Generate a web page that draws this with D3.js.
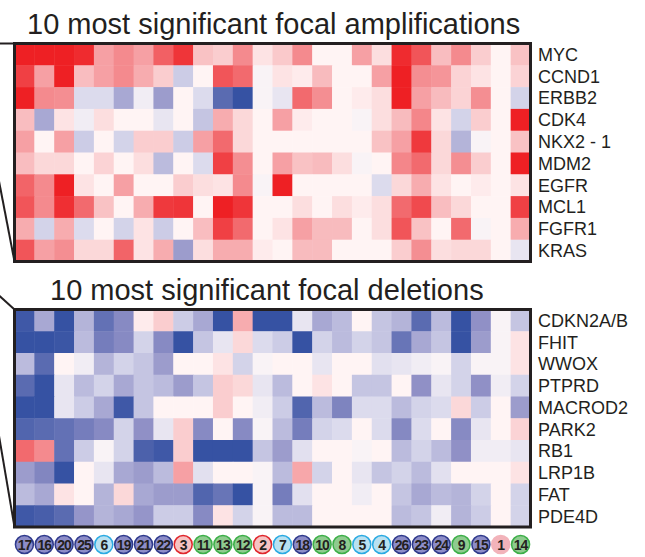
<!DOCTYPE html>
<html>
<head>
<meta charset="utf-8">
<script src="https://cdn.jsdelivr.net/npm/d3@7"></script>
<style>
  body { margin: 0; background: #fff; }
  text { font-family: "Liberation Sans", Arial, sans-serif; fill: #231f20; }
</style>
</head>
<body>
<div id="container"></div>
<script>
// sample ids shown in the circles under the heatmaps, and their cluster
var samples = ["17","16","20","25","6","19","21","22","3","11","13","12","2","7","18","10","8","5","4","26","23","24","9","15","1","14"];
var sampleGroups = ["blue","blue","blue","blue","cyan","blue","blue","blue","red","green","green","green","red","cyan","blue","green","green","cyan","cyan","blue","blue","blue","green","blue","pink","green"];

var ampGenes = ["MYC","CCND1","ERBB2","CDK4","NKX2 - 1","MDM2","EGFR","MCL1","FGFR1","KRAS"];
var delGenes = ["CDKN2A/B","FHIT","WWOX","PTPRD","MACROD2","PARK2","RB1","LRP1B","FAT","PDE4D"];

// relative copy number per gene (rows) and sample (columns)
var ampValues = [
  [1,1,1,0.95,0.4,0.5,0.4,0.7,0.9,0.25,0.2,0.5,0.1,0.22,0.5,0.02,0.02,0.4,0.12,0.95,0.75,0.27,0.5,0.2,0.02,0.25],
  [0.85,0.4,1,0.27,0.4,0.5,0.35,0.2,-0.25,0.02,0.75,0.65,-0.03,0.1,0.06,0.28,0.02,0.02,0.4,1,0.48,0.45,0.17,0.1,0.02,0.17],
  [1,0.5,0.48,-0.18,-0.18,-0.4,-0.07,-0.45,0.02,-0.18,-0.8,-1,-0.03,-0.12,0.65,0.48,0.02,0.06,0.12,1,0.4,0.28,0.17,0.48,0.02,-0.22],
  [0.27,-0.4,0.1,-0.07,0.12,0.02,0.02,-0.12,0.02,-0.28,0.35,0.15,0.02,0.4,0.06,0.02,0.02,-0.03,0.12,0.28,0.52,0.1,-0.22,0.2,0.02,1],
  [0.4,0.02,0.4,-0.25,0.02,-0.22,0.2,0.2,-0.25,0.4,0.65,0.15,0.02,0.02,0.02,0.02,0.02,0.02,0.25,0.4,0.88,0.15,-0.35,-0.03,0.02,0.25],
  [0.27,0.15,0.15,0.02,0.17,0.02,0.12,-0.32,0.02,-0.18,0.85,0.48,0.02,0.4,0.25,0.28,0.12,-0.03,0.02,0.52,0.65,0.15,0.48,0.2,0.02,1],
  [0.68,0.5,1,0.1,0.02,0.4,0.02,0.02,0.2,0.12,0.1,0.5,-0.03,1,0.02,0.02,0.02,0.02,-0.18,0.15,0.35,0.1,0.02,0.06,0.02,0.1],
  [0.75,0.5,0.93,0.65,0.25,0.02,0.35,0.88,0.9,0.02,1,0.9,0.02,0.02,0.12,0.02,0.12,0.06,0.12,0.65,0.8,0.27,0.15,0.02,0.02,0.85],
  [0.35,-0.22,0.35,-0.18,0.02,-0.22,0.1,-0.25,0.02,0.27,0.85,0.65,0.02,0.1,0.4,0.28,0.28,0.02,0.12,0.75,0.25,0.02,0.65,-0.03,0.02,0.35],
  [0.75,0.4,0.48,0.15,0.15,0.68,0.1,0.35,-0.45,0.12,0.35,0.35,0.06,0.02,0.28,0.28,0.02,0.02,0.02,0.2,0.48,0.12,0.15,0.15,0.02,-0.12]
];
var delValues = [
  [-0.95,-0.4,-1,-0.35,-0.75,-0.55,0.06,0.2,-0.25,-0.4,-1,0.35,-1,-1,-0.12,-0.4,-0.32,0.02,-0.28,-0.35,-0.8,-0.32,-1,-0.5,-0.03,-0.28],
  [-1,-1,-0.97,-0.32,-0.65,-0.55,-0.22,-0.55,-1,-0.28,-0.12,0.15,-0.18,-0.25,-1,-0.22,-0.32,-0.22,-0.28,-0.72,-0.4,-0.28,-1,-0.45,-0.03,0.1],
  [-0.32,-0.8,0.02,-0.07,-0.35,-0.22,-0.28,-0.45,0.02,0.02,0.1,-0.22,-0.03,0.02,0.02,-0.12,0.02,0.02,-0.15,-0.12,-0.07,-0.03,-0.22,-0.03,-0.03,0.1],
  [-0.8,-1,-0.12,-0.32,-0.22,-0.4,-0.28,-0.32,-0.45,-0.28,0.2,0.15,-0.12,-0.32,0.02,0.1,0.02,-0.28,-0.28,0.02,-0.5,-0.12,-0.22,-0.5,-0.07,-0.22],
  [-1,-1,-0.12,-0.25,-0.4,-0.95,-0.28,0.02,0.02,0.02,0.2,0.02,-0.07,-0.25,-0.85,-0.32,-0.6,-0.18,-0.18,-0.32,-0.22,-0.18,0.15,-0.25,0.02,-0.45],
  [-0.85,-0.8,-0.75,-0.65,-0.55,-0.22,-0.5,-0.12,0.2,-0.55,0.02,-0.55,-0.03,-0.32,-0.65,-0.22,-0.18,0.02,-0.18,-0.56,-0.18,0.02,-0.55,-0.12,0.02,0.17],
  [0.65,0.5,-0.75,-0.25,-0.03,-0.22,-0.88,-0.95,0.2,-1,-1,-1,-0.28,-0.45,-0.15,0.02,0.02,-0.03,0.02,-0.32,-0.22,-0.32,-0.5,-0.07,-0.07,-0.12],
  [-0.45,-0.58,-1,0.02,-0.12,-0.4,-0.45,-0.32,0.4,-0.15,0.02,0.02,-0.03,-0.32,0.37,-0.22,0.02,-0.12,-0.28,-0.22,-0.32,-0.15,0.02,0.02,0.02,0.1],
  [-0.32,-0.4,0.1,0.02,-0.35,0.15,-0.4,-0.45,-0.45,-0.85,-0.72,-1,-0.03,-0.65,-0.15,0.02,0.02,-0.07,0.02,-0.28,-0.4,-0.32,-0.35,-0.22,0.02,-0.22],
  [-0.95,-0.9,-0.8,-0.48,-0.35,-0.4,-0.48,-0.25,-0.25,-0.55,0.1,-0.22,-0.03,-0.32,-0.32,0.02,0.02,0.02,0.02,-0.32,-0.28,-0.07,-0.35,-0.25,0.02,-0.22]
];

var width = 645, height = 557;
var svg = d3.select("#container")
  .append("svg")
    .attr("width", width)
    .attr("height", height)
    .attr("id", "chart");

var color = d3.scaleLinear()
  .domain([-1, -0.5, -0.2, 0, 0.2, 0.5, 1])
  .range(["#3652a3", "#9090c6", "#d8d8ec", "#fff8f8", "#facdcf", "#f48a8e", "#ee2024"])
  .clamp(true);

var x = d3.scaleBand()
  .domain(samples)
  .range([14.5, 530.5]);

function heatmap(top, bottom, genes, values, title, titleX) {
  var y = d3.scaleBand().domain(genes).range([top, bottom]);
  var g = svg.append("g");

  values.forEach(function(row, i) {
    g.selectAll(null)
      .data(row)
      .enter().append("rect")
        .attr("x", function(d, j) { return x(samples[j]); })
        .attr("y", y(genes[i]))
        .attr("width", x.bandwidth() + 0.5)
        .attr("height", y.bandwidth() + 0.5)
        .attr("fill", function(d) { return color(d); });
  });

  g.append("rect")
    .attr("x", x.range()[0])
    .attr("y", top)
    .attr("width", x.range()[1] - x.range()[0])
    .attr("height", bottom - top)
    .attr("fill", "none")
    .attr("stroke", "#231f20")
    .attr("stroke-width", 3);

  // gene names on the right
  g.selectAll(null)
    .data(genes)
    .enter().append("text")
      .attr("x", 538)
      .attr("y", function(d) { return y(d) + y.bandwidth() / 2; })
      .attr("dy", "0.36em")
      .style("font-size", "18px")
      .text(function(d) { return d; });

  svg.append("text")
    .attr("x", titleX)
    .attr("y", top - 10)
    .style("font-size", "29px")
    .text(title);
}

heatmap(43.5, 261.5, ampGenes, ampValues, "10 most significant focal amplifications", 27);
heatmap(309.5, 527, delGenes, delValues, "10 most significant focal deletions", 50);

// zoom lines coming in from the left
var zoomLines = [
  [[0, 43.5], [14.5, 43.5]],
  [[-2, 176], [14.5, 261.5]],
  [[-16, 282], [14.5, 309.5]],
  [[-2, 430], [14.5, 527]]
];
svg.selectAll(null)
  .data(zoomLines)
  .enter().append("path")
    .attr("d", d3.line())
    .attr("fill", "none")
    .attr("stroke", "#231f20")
    .attr("stroke-width", 2);

// sample circles
var groupFill = {blue: "#8d8dc8", cyan: "#b9e1f1", red: "#f6c3c3", green: "#8fcb8f", pink: "#f2b3ba"};
var groupStroke = {blue: "#2f3a8c", cyan: "#2aaae2", red: "#e0262c", green: "#3caf48", pink: "#f2b3ba"};

var dots = svg.append("g")
  .selectAll("g")
  .data(samples)
  .enter().append("g")
    .attr("transform", function(d) { return "translate(" + (x(d) + x.bandwidth() / 2) + ",544.5)"; });

dots.append("circle")
  .attr("r", 9)
  .attr("fill", function(d, i) { return groupFill[sampleGroups[i]]; })
  .attr("stroke", function(d, i) { return groupStroke[sampleGroups[i]]; })
  .attr("stroke-width", 1.5);

dots.append("text")
  .attr("text-anchor", "middle")
  .attr("dy", "0.36em")
  .style("font-size", "14px")
  .style("font-weight", "bold")
  .style("letter-spacing", "-1px")
  .text(function(d) { return d; });
</script>
</body>
</html>
